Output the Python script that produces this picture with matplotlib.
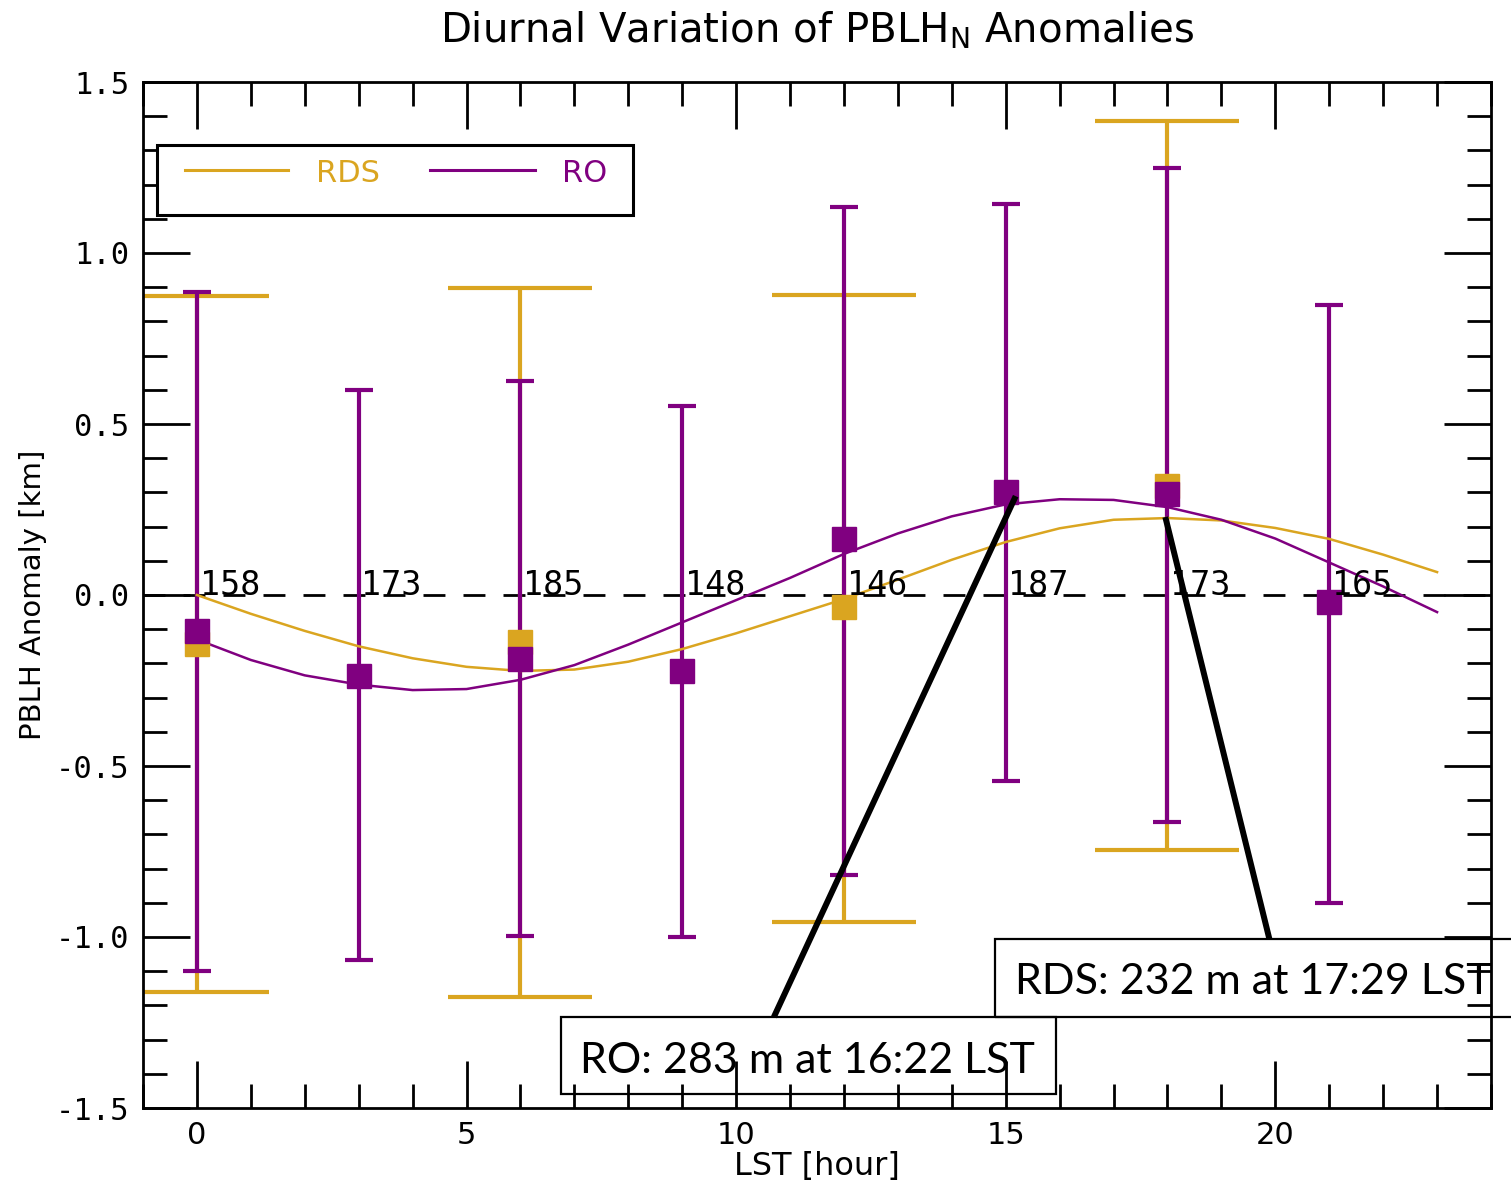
import matplotlib
matplotlib.use("Agg")
import matplotlib.pyplot as plt
from matplotlib.ticker import MultipleLocator
from matplotlib.patches import Rectangle
from matplotlib import font_manager

# ---------------- data ----------------
hours = [0, 3, 6, 9, 12, 15, 18, 21]
ro_mean = [-0.105, -0.236, -0.187, -0.222, 0.164, 0.301, 0.295, -0.02]
ro_upper = [0.886, 0.599, 0.626, 0.553, 1.134, 1.143, 1.25, 0.848]
ro_lower = [-1.099, -1.067, -0.997, -1.0, -0.82, -0.544, -0.664, -0.90]
counts = ["158", "173", "185", "148", "146", "187", "173", "165"]

rds_hours = [0, 6, 12, 18]
rds_mean = [-0.143, -0.138, -0.035, 0.318]
rds_upper = [0.874, 0.898, 0.877, 1.386]
rds_lower = [-1.161, -1.175, -0.956, -0.746]

fit_hours = list(range(24))
ro_fit = [-0.13, -0.19, -0.235, -0.262, -0.278, -0.275, -0.248, -0.205,
          -0.145, -0.08, -0.015, 0.05, 0.12, 0.18, 0.23, 0.265,
          0.28, 0.278, 0.257, 0.22, 0.165, 0.095, 0.025, -0.05]
rds_fit = [0.0, -0.055, -0.105, -0.150, -0.185, -0.210, -0.222, -0.218,
           -0.195, -0.158, -0.112, -0.062, -0.012, 0.045, 0.103, 0.155,
           0.195, 0.220, 0.225, 0.218, 0.196, 0.164, 0.118, 0.067]

series_names = ["RDS", "RO"]
ro_note = "RO: 283 m at 16:22 LST"
rds_note = "RDS: 232 m at 17:29 LST"

xticks = [0, 5, 10, 15, 20]
yticks = [-1.5, -1.0, -0.5, 0.0, 0.5, 1.0, 1.5]

# ---------------- style ----------------
C_RDS = "#DAA520"
C_RO = "#800080"


def pick_font(cands):
    for c in cands:
        try:
            font_manager.findfont(font_manager.FontProperties(family=c),
                                  fallback_to_default=False)
            return c
        except Exception:
            pass
    return "DejaVu Sans"


note_font = pick_font(["Liberation Sans Narrow", "Lato", "Open Sans"])
note_size = 36 if note_font == "Liberation Sans Narrow" else 31

plt.rcParams["font.family"] = ["DejaVu Sans"]

fig = plt.figure(figsize=(15.11, 11.82), dpi=100)
ax = fig.add_axes([143 / 1511, 74 / 1182, 1348 / 1511, 1026 / 1182])

ax.set_xlim(-1, 24)
ax.set_ylim(-1.5, 1.5)

# zero line
ax.axhline(0, color="black", lw=2, dashes=(7.9, 6.5), zorder=1)

# error bars
rds_err = [[m - l for m, l in zip(rds_mean, rds_lower)],
           [u - m for m, u in zip(rds_mean, rds_upper)]]
ro_err = [[m - l for m, l in zip(ro_mean, ro_lower)],
          [u - m for m, u in zip(ro_mean, ro_upper)]]
ax.errorbar(rds_hours, rds_mean, yerr=rds_err, fmt="none", ecolor=C_RDS,
            elinewidth=3, capsize=52, capthick=3, zorder=2)
ax.errorbar(hours, ro_mean, yerr=ro_err, fmt="none", ecolor=C_RO,
            elinewidth=3, capsize=10, capthick=3, zorder=3)

# fitted curves
ax.plot(fit_hours, rds_fit, color=C_RDS, lw=1.8, zorder=4)
ax.plot(fit_hours, ro_fit, color=C_RO, lw=1.8, zorder=4)

# markers
ax.plot(rds_hours, rds_mean, "s", ms=17, color=C_RDS, mec=C_RDS, zorder=5)
ax.plot(hours, ro_mean, "s", ms=17, color=C_RO, mec=C_RO, zorder=6)

# sample counts
for h, c in zip(hours, counts):
    ax.text(h + 0.05, 0.0, c, family="DejaVu Sans Mono", fontsize=24,
            ha="left", va="baseline", color="black", zorder=7)

# ticks / spines
ax.xaxis.set_major_locator(MultipleLocator(5))
ax.xaxis.set_minor_locator(MultipleLocator(1))
ax.yaxis.set_major_locator(MultipleLocator(0.5))
ax.yaxis.set_minor_locator(MultipleLocator(0.1))
ax.set_xticks(xticks)
ax.set_xticklabels([str(t) for t in xticks])
ax.set_yticks(yticks)
ax.set_yticklabels([f"{t:.1f}" for t in yticks])
ax.tick_params(which="both", direction="in", top=True, right=True,
               width=2, color="black")
ax.tick_params(which="major", length=34)
ax.tick_params(which="minor", length=17)
ax.tick_params(axis="x", which="major", pad=9, labelsize=22)
ax.tick_params(axis="y", which="major", pad=10, labelsize=22)
for lab in ax.get_yticklabels():
    lab.set_family("DejaVu Sans Mono")
for sp in ax.spines.values():
    sp.set_linewidth(2)

ax.set_xlabel("LST [hour]", fontsize=23)
ax.xaxis.set_label_coords(0.5, -0.042)
ax.set_ylabel("PBLH Anomaly [km]", fontsize=21)
ax.yaxis.set_label_coords(-0.071, 0.5)

ax.text(0.5, (1108 - 42) / 1026,
        r"Diurnal Variation of PBLH$_{\mathregular{N}}$ Anomalies",
        transform=ax.transAxes, ha="center", va="baseline", fontsize=29)

# manual legend
ta = ax.transAxes
ax.add_patch(Rectangle((0.0104, 0.8704), 0.3531, 0.0682, transform=ta,
                       facecolor="white", edgecolor="black", lw=2.2,
                       zorder=8, clip_on=False))
ax.plot([0.0312, 0.1076], [0.9142, 0.9142], transform=ta, color=C_RDS,
        lw=2.2, zorder=9, clip_on=False)
ax.plot([0.2129, 0.2908], [0.9142, 0.9142], transform=ta, color=C_RO,
        lw=2.2, zorder=9, clip_on=False)
ax.text(0.1283, 0.9025, series_names[0], transform=ta, color=C_RDS,
        fontsize=22, va="baseline", ha="left", zorder=9)
ax.text(0.3108, 0.9025, series_names[1], transform=ta, color=C_RO,
        fontsize=22, va="baseline", ha="left", zorder=9)

# annotation callouts
ax.plot([15.185, 10.70], [0.289, -1.234], color="black", lw=4.3,
        solid_capstyle="butt", zorder=10, clip_on=False)
ax.plot([17.96, 19.89], [0.228, -1.006], color="black", lw=4.3,
        solid_capstyle="butt", zorder=10, clip_on=False)
ax.add_patch(Rectangle((6.76, -1.459), 15.94 - 6.76, 1.459 - 1.234,
                       facecolor="none", edgecolor="black", lw=1.6,
                       zorder=10, clip_on=False))
ax.add_patch(Rectangle((14.80, -1.234), 24.6 - 14.80, 1.234 - 1.006,
                       facecolor="none", edgecolor="black", lw=1.6,
                       zorder=10, clip_on=False))
ax.text(7.11, -1.363, ro_note, family=[note_font, "DejaVu Sans"],
        fontsize=note_size, ha="left", va="center", zorder=11)
ax.text(15.17, -1.132, rds_note, family=[note_font, "DejaVu Sans"],
        fontsize=note_size, ha="left", va="center", zorder=11)

fig.savefig("out.png", dpi=100)
